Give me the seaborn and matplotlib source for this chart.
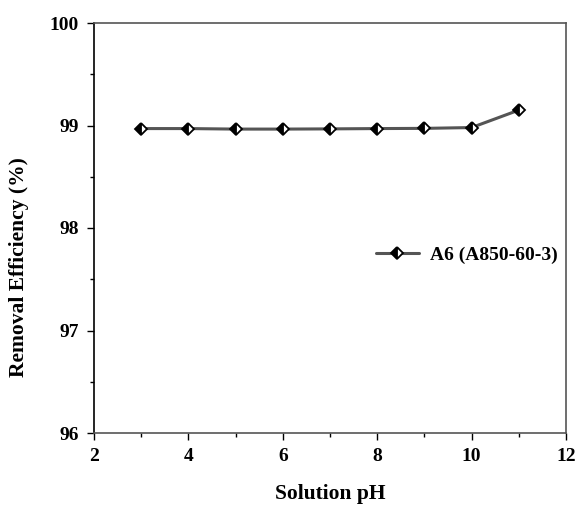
import matplotlib
matplotlib.use("Agg")
import matplotlib.pyplot as plt
import seaborn as sns
import pandas as pd
from matplotlib.ticker import MultipleLocator

ph = [3, 4, 5, 6, 7, 8, 9, 10, 11]
efficiency = [98.97, 98.97, 98.965, 98.965, 98.967, 98.97, 98.972, 98.98, 99.15]
series_label = "A6 (A850-60-3)"

df = pd.DataFrame({"pH": ph, "eff": efficiency, "s": series_label})

sns.set_theme(style="ticks")
plt.rcParams['font.family'] = ['Liberation Serif', 'DejaVu Serif']
plt.rcParams['font.weight'] = 'bold'
plt.rcParams['text.color'] = 'black'
plt.rcParams['axes.labelcolor'] = 'black'
plt.rcParams['xtick.color'] = 'black'
plt.rcParams['ytick.color'] = 'black'

fig = plt.figure(figsize=(5.78, 5.18), dpi=100)
ax = fig.add_axes([94/578, 1 - 433/518, 472/578, 410/518])

sns.lineplot(data=df, x="pH", y="eff", ax=ax, color="#555555", linewidth=2.2,
             marker="D", markersize=6.5, markerfacecolor="black",
             markerfacecoloralt="white", fillstyle="left",
             markeredgecolor="black", markeredgewidth=1.3, label=series_label)

ax.set_xlim(2, 12)
ax.set_ylim(96, 100)
ax.xaxis.set_major_locator(MultipleLocator(2))
ax.xaxis.set_minor_locator(MultipleLocator(1))
ax.yaxis.set_major_locator(MultipleLocator(1))
ax.yaxis.set_minor_locator(MultipleLocator(0.5))
ax.tick_params(axis='both', which='major', length=5, width=1, labelsize=14, direction='out', pad=6)
ax.tick_params(axis='both', which='minor', length=3, width=1, direction='out')
for lab in ax.get_xticklabels() + ax.get_yticklabels():
    lab.set_fontweight('bold')

for side in ['top', 'right', 'bottom']:
    ax.spines[side].set_color('#555555')
    ax.spines[side].set_linewidth(1.2)
ax.spines['left'].set_color('black')
ax.spines['left'].set_linewidth(1.2)

ax.set_xlabel("Solution pH", fontsize=15.5, fontweight='bold')
ax.set_ylabel("Removal Efficiency (%)", fontsize=15.5, fontweight='bold')
ax.xaxis.set_label_coords(0.5, -0.124)
ax.yaxis.set_label_coords(-0.138, 0.405)

leg = ax.legend(loc='center left', bbox_to_anchor=(0.56, 0.434), frameon=False,
                prop={'weight': 'bold', 'size': 14}, handlelength=2.2, handletextpad=0.6)

fig.savefig("out.png", dpi=100)
